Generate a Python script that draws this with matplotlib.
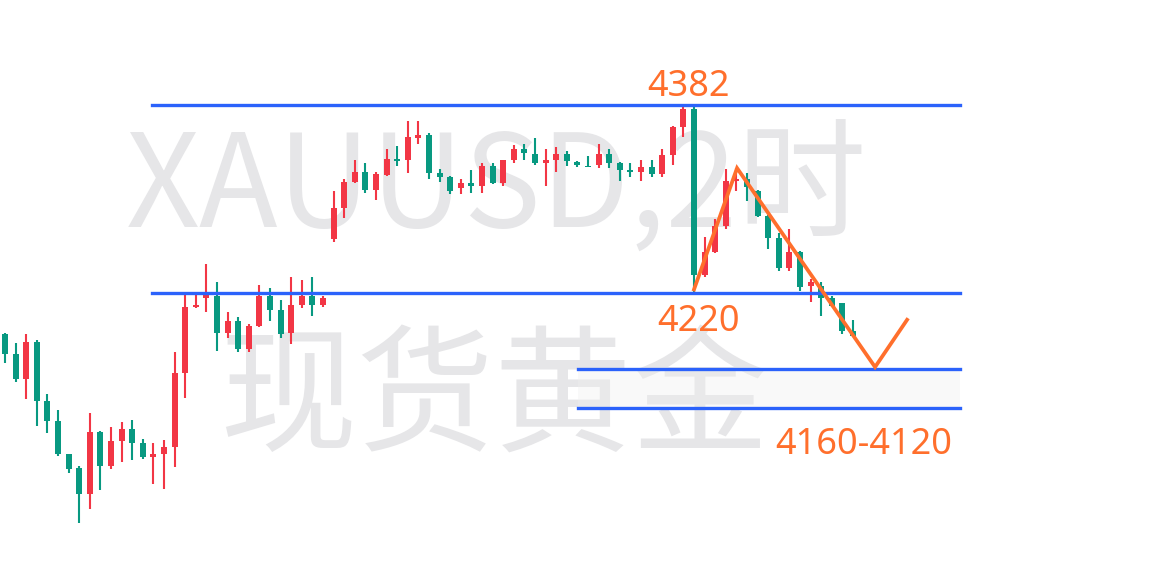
import matplotlib
matplotlib.use('Agg')
from matplotlib import pyplot

pyplot.rcParams['font.family'] = ['Noto Sans CJK SC', 'DejaVu Sans']

# 2h XAUUSD candles
opens = [4185, 4168, 4146, 4178, 4127, 4110, 4082, 4070, 4048, 4101,
         4072, 4093, 4103, 4091, 4079, 4082, 4088, 4151, 4208, 4216,
         4217, 4186, 4196, 4172, 4192, 4217, 4205, 4186, 4210, 4217,
         4210, 4266, 4293, 4315, 4324, 4308, 4321, 4335, 4334, 4353,
         4355, 4323, 4319, 4310, 4314, 4312, 4329, 4314, 4334, 4343,
         4339, 4331, 4334, 4339, 4332, 4329, 4330, 4339, 4331, 4325,
         4324, 4328, 4322, 4338, 4362, 4378, 4235, 4255, 4277, 4316,
         4318, 4307, 4286, 4267, 4241, 4255, 4226, 4226, 4216, 4211,
         4187]
highs = [4186, 4177, 4185, 4180, 4133, 4120, 4082, 4072, 4117, 4102,
         4105, 4109, 4111, 4095, 4091, 4094, 4169, 4218, 4218, 4245,
         4229, 4204, 4199, 4193, 4227, 4224, 4214, 4234, 4231, 4234,
         4217, 4307, 4318, 4334, 4331, 4324, 4343, 4346, 4367, 4367,
         4357, 4326, 4320, 4318, 4325, 4331, 4331, 4334, 4347, 4348,
         4353, 4343, 4345, 4342, 4333, 4337, 4348, 4343, 4332, 4331,
         4334, 4334, 4343, 4363, 4380, 4382, 4268, 4283, 4326, 4327,
         4323, 4308, 4287, 4271, 4275, 4256, 4232, 4229, 4217, 4211,
         4197]
lows = [4160, 4144, 4129, 4106, 4100, 4080, 4066, 4023, 4035, 4051,
        4069, 4075, 4077, 4078, 4056, 4052, 4071, 4130, 4207, 4204,
        4170, 4181, 4169, 4169, 4191, 4196, 4181, 4176, 4207, 4200,
        4208, 4264, 4284, 4314, 4306, 4300, 4320, 4329, 4323, 4348,
        4318, 4315, 4305, 4305, 4306, 4306, 4313, 4312, 4331, 4334,
        4330, 4312, 4324, 4329, 4328, 4328, 4327, 4327, 4316, 4319,
        4316, 4319, 4319, 4330, 4354, 4221, 4234, 4254, 4275, 4307,
        4299, 4285, 4258, 4239, 4239, 4222, 4212, 4200, 4208, 4185,
        4183]
closes = [4168, 4146, 4178, 4127, 4110, 4082, 4069, 4048, 4101, 4072,
          4093, 4103, 4091, 4079, 4082, 4088, 4151, 4208, 4210, 4218,
          4186, 4196, 4172, 4192, 4217, 4205, 4185, 4210, 4217, 4210,
          4216, 4293, 4315, 4324, 4308, 4322, 4335, 4333, 4354, 4355,
          4323, 4319, 4307, 4314, 4312, 4329, 4314, 4334, 4343, 4340,
          4331, 4334, 4339, 4333, 4330, 4328, 4339, 4331, 4325, 4324,
          4328, 4322, 4338, 4362, 4378, 4235, 4255, 4277, 4316, 4318,
          4311, 4286, 4267, 4241, 4255, 4225, 4229, 4216, 4209, 4187,
          4183]

levels = [4381, 4220, 4155, 4121]
level_labels = ['4382', '4220', '4160-4120']

# orange zigzag projection (bar index, price)
zig_x = [65.0, 69.06, 82.08, 85.1]
zig_y = [4223, 4327, 4156.5, 4197]

watermark = ['XAUUSD,2时', '现货黄金']

up_color = '#f23645'
down_color = '#089981'
blue = '#2b62fb'
orange = '#ff6f2c'

fig = pyplot.figure(figsize=(11.76, 5.62), dpi=100)
ax = fig.add_axes([0, 0, 1, 1])
ax.set_axis_off()
ax.set_xlim(-0.4717, 110.47)
ax.set_ylim(3989.4, 4471.1)

# watermark behind everything
ax.text(0.4222, 1 - 228 / 562, watermark[0], transform=ax.transAxes, ha='center', va='baseline',
        fontsize=93, color='#e6e6e8', zorder=0)
ax.text(0.4205, 1 - 442 / 562, watermark[1], transform=ax.transAxes, ha='center', va='baseline',
        fontsize=99, color='#e6e6e8', zorder=0)

for i in range(len(opens)):
    o, h, l, c = opens[i], highs[i], lows[i], closes[i]
    color = up_color if c >= o else down_color
    ax.vlines(i, l, h, color=color, linewidth=1.5, zorder=2)
    height = max(abs(c - o), 1.2)
    ax.bar(i, height, bottom=min(o, c), width=0.57, color=color, linewidth=0, zorder=3)

# support / resistance lines
ax.axhline(levels[0], xmin=152 / 1176, xmax=960 / 1176, color=blue, linewidth=2.4, zorder=4)
ax.axhline(levels[1], xmin=152 / 1176, xmax=960 / 1176, color=blue, linewidth=2.4, zorder=4)
ax.axhline(levels[2], xmin=578 / 1176, xmax=960 / 1176, color=blue, linewidth=2.4, zorder=4)
ax.axhline(levels[3], xmin=578 / 1176, xmax=960 / 1176, color=blue, linewidth=2.4, zorder=4)
ax.axhspan(levels[3], levels[2], xmin=578 / 1176, xmax=960 / 1176, color='#f0f0f0', alpha=0.35,
           linewidth=0, zorder=1)

ax.plot(zig_x, zig_y, color=orange, linewidth=2.7, solid_joinstyle='miter', zorder=5)

label_font = ['Noto Sans', 'DejaVu Sans']
ax.text(64.5, 4388.8, level_labels[0], ha='center', va='baseline', fontsize=26, color=orange,
        family=label_font, zorder=6)
ax.text(65.47, 4187.4, level_labels[1], ha='center', va='baseline', fontsize=26, color=orange,
        family=label_font, zorder=6)
ax.text(81.0, 4082, level_labels[2], ha='center', va='baseline', fontsize=26, color=orange,
        family=label_font, zorder=6)

fig.savefig('out.png', dpi=100, facecolor='white')
